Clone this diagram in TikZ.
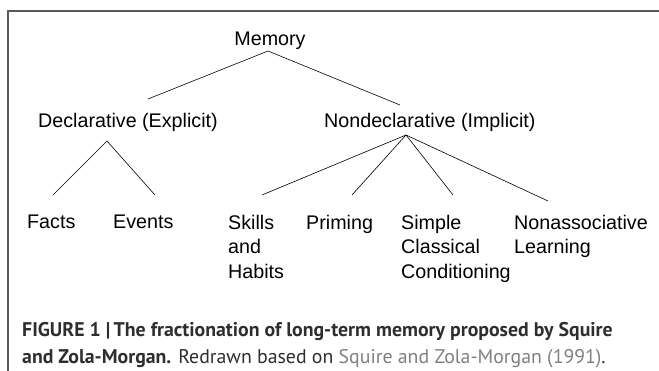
\documentclass[tikz,border=0pt]{standalone}
\usepackage{fontspec}
\setmainfont{Liberation Sans}
\newfontfamily\capfont{PT Sans}
\usepackage{xcolor}
\usetikzlibrary{positioning}
\definecolor{framegray}{HTML}{5A5A5A}
\definecolor{captext}{HTML}{2E2E2E}
\definecolor{linkgray}{HTML}{808080}
\tikzset{
	% Begriffe im Baum
	term/.style={
		inner sep=0pt,
		anchor=base west,
		font=\fontsize{19.7}{24.5}\selectfont,
		align=left
	}, %
	% Blaetter, oben buendig
	leaf/.style={
		term,
		anchor=north west
	}, %
	% Aeste
	branch/.style={
		draw=black,
		line width=0.6pt
	}, %
	% Bildunterschrift
	captionline/.style={
		inner sep=0pt,
		anchor=base west,
		text=captext,
		font=\capfont\fontsize{19.8}{22}\selectfont
	} %
}

\begin{document}
\begin{tikzpicture}[x=1pt,y=-1pt]
			\useasboundingbox (0,0) rectangle (659,371);
			
			% Rahmen
			\draw[framegray, line width=1.4pt] (8,371) -- (8,11) -- (659,11);
			
			% Memory
			\node[term, anchor=base] (mem) at (270,46) {Memory};
			\coordinate (memtop) at (268,51);
			
			% zweite Ebene
			\node[term] (decl) at (38,128) {Declarative (Explicit)};
			\node[term] (nondecl) at (324,128) {Nondeclarative (Implicit)};
			\coordinate (declin) at (148,99);
			\coordinate (nondeclin) at (400,105);
			\coordinate (decltop) at (107,141);
			\coordinate (nondecltop) at (406,135);
			
			% Blaetter
			\node[leaf] (facts) at (27,214.6) {Facts};
			\node[leaf] (events) at (113,214.6) {Events};
			\node[leaf] (skills) at (228,214.6) {Skills\\and\\Habits};
			\node[leaf] (priming) at (306,214.6) {Priming};
			\node[leaf] (simple) at (401,214.6) {Simple\\Classical\\Conditioning};
			\node[leaf] (nonassoc) at (514,214.6) {Nonassociative\\Learning};
			\coordinate (factsin) at (53,195);
			\coordinate (eventsin) at (155,195);
			\coordinate (skillsin) at (262,195);
			\coordinate (primingin) at (352,195);
			\coordinate (simplein) at (453,195);
			\coordinate (nonassocin) at (548,201);
			
			% Aeste
			\draw[branch] (declin) -- (memtop) -- (nondeclin);
			\draw[branch] (factsin) -- (decltop) -- (eventsin);
			\foreach \leaf in {skillsin, primingin, simplein, nonassocin}
				\draw[branch] (nondecltop) -- (\leaf);
			
			% Bildunterschrift
			\node[captionline] (cap1) at (22,337) {\bfseries FIGURE 1 |\,The fractionation of long-term memory proposed by Squire};
			\node[captionline] (cap2) at (22,364) {\bfseries and Zola-Morgan.\mdseries{} Redrawn based on \textcolor{linkgray}{Squire and Zola-Morgan (1991)}.};
		\end{tikzpicture}
\end{document}
